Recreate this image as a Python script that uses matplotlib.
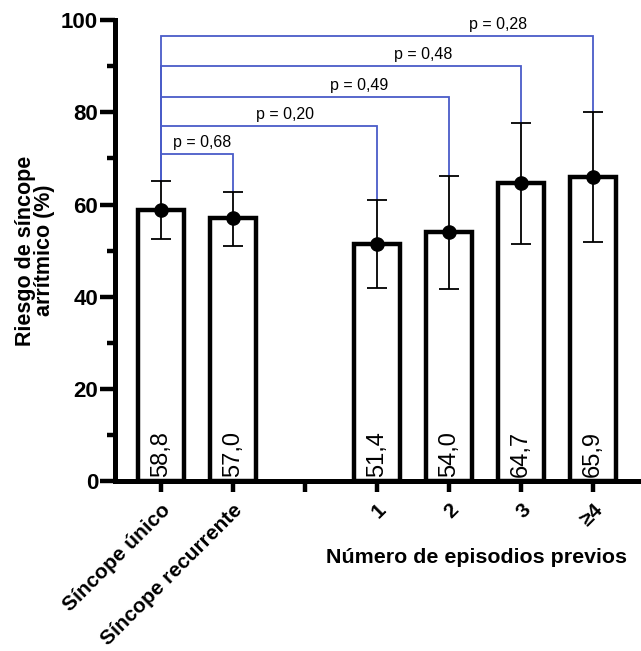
import numpy as np
import matplotlib.pyplot as plt

plt.rcParams['font.family'] = ['Liberation Sans', 'DejaVu Sans']

# Datos
grupos = ["Síncope único", "Síncope recurrente", "", "1", "2", "3", "≥4"]
posiciones = [0, 1, 3, 4, 5, 6]
valores = [58.8, 57.0, 51.4, 54.0, 64.7, 65.9]
err_sup = [65.0, 62.8, 60.9, 66.3, 77.8, 80.0]
err_inf = [52.6, 50.9, 42.0, 41.7, 51.5, 51.9]
etiquetas = ["58,8", "57,0", "51,4", "54,0", "64,7", "65,9"]

# Comparaciones (destino, altura de la barra superior, texto p)
comp_destino = [1, 3, 4, 5, 6]
comp_altura = [71.0, 77.0, 83.3, 90.0, 96.6]
comp_texto = ["p = 0,68", "p = 0,20", "p = 0,49", "p = 0,48", "p = 0,28"]
comp_texto_x = [0.57, 1.72, 2.76, 3.64, 4.69]

azul = '#4a5cc8'

fig = plt.figure(figsize=(6.41, 6.51), dpi=100)
ax = fig.add_axes([0.179, 0.261, 0.821, 0.708])

ax.bar(posiciones, valores, width=0.64, color='white', edgecolor='black',
       linewidth=3.2, zorder=2)

yerr = [np.array(valores) - np.array(err_inf), np.array(err_sup) - np.array(valores)]
ax.errorbar(posiciones, valores, yerr=yerr, fmt='o', color='black', ms=9.5,
            elinewidth=1.3, capsize=7.5, capthick=1.3, zorder=3)

for x, t in zip(posiciones, etiquetas):
    ax.text(x, 0.9, t, rotation=90, ha='center', va='bottom', fontsize=17, zorder=4)

# Barras de comparación
for dest, h, t, tx in zip(comp_destino, comp_altura, comp_texto, comp_texto_x):
    top_dest = err_sup[posiciones.index(dest)]
    ax.plot([0, 0, dest, dest], [err_sup[0], h, h, top_dest], color=azul,
            lw=1.3, zorder=1, solid_joinstyle='miter')
    ax.text(tx, h + 0.9, t, ha='center', va='bottom', fontsize=11.5)

ax.set_xlim(-0.64, 6.67)
ax.set_ylim(0, 100)
ax.set_yticks([0, 20, 40, 60, 80, 100])
ax.set_yticks(np.arange(10, 100, 20), minor=True)
ax.set_xticks(range(len(grupos)))
ax.set_xticklabels(grupos, rotation=45, ha='right', rotation_mode='anchor',
                   fontsize=15, fontweight='bold')

for lbl in ax.get_yticklabels():
    lbl.set_fontweight('bold')
    lbl.set_fontsize(16)

ax.tick_params(axis='y', which='major', length=11, width=3.2, pad=1)
ax.tick_params(axis='y', which='minor', length=6, width=3.2)
ax.tick_params(axis='x', which='major', length=8, width=3.2, pad=6)

for s in ['top', 'right']:
    ax.spines[s].set_visible(False)
for s in ['left', 'bottom']:
    ax.spines[s].set_linewidth(3.6)

ax.set_ylabel("Riesgo de síncope\narrítmico (%)", fontsize=15.5, fontweight='bold',
              linespacing=0.9, labelpad=4)
fig.text(0.744, 0.143, "Número de episodios previos", ha='center', va='center',
         fontsize=15.4, fontweight='bold')

fig.savefig("out.png", dpi=100)
